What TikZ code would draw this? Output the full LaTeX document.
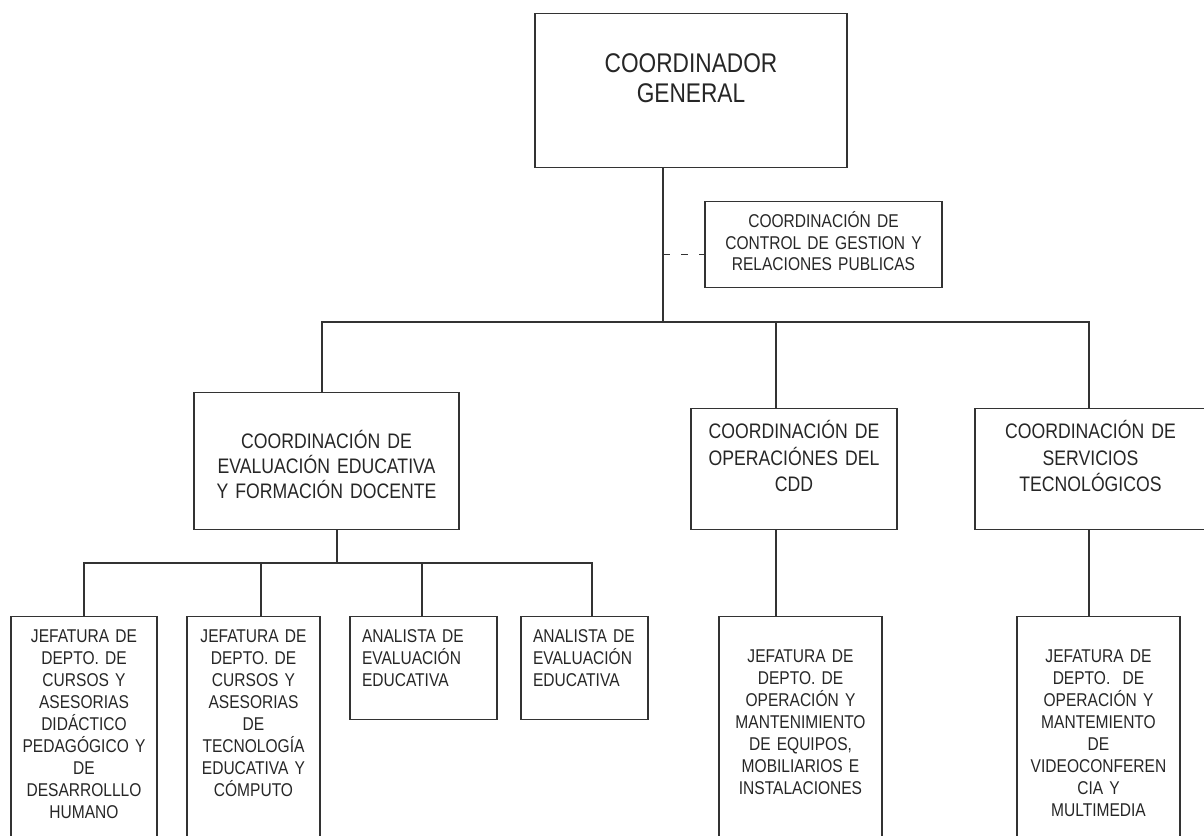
\documentclass[tikz,border=0pt]{standalone}
\usepackage{fontspec}
\setmainfont[FakeStretch=0.84]{Liberation Sans}
\begin{document}
\begin{tikzpicture}[x=1pt, y=-1pt,
    orgBoxStyle/.style={draw=black!80, line width=1.2pt, inner sep=0pt, anchor=north, text=black!85, font=\fontsize{18.5pt}{22pt}\selectfont},
    orgCenterStyle/.style={orgBoxStyle, align=center},
    orgLeftStyle/.style={orgBoxStyle, align=left, inner xsep=12pt},
    orgLineStyle/.style={draw=black!80, line width=1.2pt},
    orgDashStyle/.style={draw=black!80, line width=1.2pt, dash pattern=on 7pt off 11pt}]

    \path[use as bounding box, clip] (0,0) rectangle (1204,835);

    % Top level
    \node[orgCenterStyle, text width=312pt, text height=59pt, text depth=95pt, font=\fontsize{27pt}{30pt}\selectfont] (cg) at (691,13) {COORDINADOR\\GENERAL};
    \node[orgCenterStyle, text width=237pt, text height=26pt, text depth=60pt, font=\fontsize{18.5pt}{21.5pt}\selectfont] (cgr) at (823.5,201) {COORDINACIÓN DE\\CONTROL DE GESTION Y\\RELACIONES PUBLICAS};

    % Coordinaciones
    \node[orgCenterStyle, text width=265pt, text height=56pt, text depth=81pt, font=\fontsize{21pt}{25pt}\selectfont] (eval) at (326.5,392) {COORDINACIÓN DE\\EVALUACIÓN EDUCATIVA\\Y FORMACIÓN DOCENTE};
    \node[orgCenterStyle, text width=206pt, text height=30pt, text depth=91pt, font=\fontsize{21pt}{26.5pt}\selectfont] (cdd) at (794,408) {COORDINACIÓN DE\\OPERACIÓNES DEL\\CDD};
    \node[orgCenterStyle, text width=231pt, text height=30pt, text depth=91pt, font=\fontsize{21pt}{26.5pt}\selectfont] (serv) at (1090.5,408) {COORDINACIÓN DE\\SERVICIOS\\TECNOLÓGICOS};

    % Jefaturas y analistas
    \node[orgCenterStyle, text width=146pt, text height=26pt, text depth=240pt] (jef1) at (84,616) {JEFATURA DE\\DEPTO. DE\\CURSOS Y\\ASESORIAS\\DIDÁCTICO\\PEDAGÓGICO Y\\DE\\DESARROLLLO\\HUMANO};
    \node[orgCenterStyle, text width=133pt, text height=26pt, text depth=240pt] (jef2) at (253.5,616) {JEFATURA DE\\DEPTO. DE\\CURSOS Y\\ASESORIAS\\DE\\TECNOLOGÍA\\EDUCATIVA Y\\CÓMPUTO};
    \node[orgLeftStyle, text width=123pt, text height=26pt, text depth=77pt] (ana1) at (423.5,616) {ANALISTA~DE\\EVALUACIÓN\\EDUCATIVA};
    \node[orgLeftStyle, text width=103pt, text height=26pt, text depth=77pt] (ana2) at (584.5,616) {ANALISTA~DE\\EVALUACIÓN\\EDUCATIVA};
    \node[orgCenterStyle, text width=163pt, text height=46pt, text depth=220pt] (jef3) at (800.5,616) {JEFATURA DE\\DEPTO. DE\\OPERACIÓN Y\\MANTENIMIENTO\\DE EQUIPOS,\\MOBILIARIOS E\\INSTALACIONES};
    \node[orgCenterStyle, text width=163pt, text height=46pt, text depth=220pt] (jef4) at (1098.5,616) {JEFATURA DE\\DEPTO.\ \ DE\\OPERACIÓN Y\\MANTEMIENTO\\DE\\VIDEOCONFEREN\\CIA Y\\MULTIMEDIA};

    \coordinate (trunk) at (663,322);
    \coordinate (bEval) at (322,322);
    \coordinate (bCdd) at (776,322);
    \coordinate (bServ) at (1089,322);
    \coordinate (sEval) at (337,563);
    \coordinate (sJef1) at (84,563);
    \coordinate (sJef2) at (261,563);
    \coordinate (sAna1) at (422,563);
    \coordinate (sAna2) at (592,563);

    \draw[orgLineStyle] (cg.south -| trunk) -- (trunk);
    \draw[orgDashStyle] ([yshift=-10pt]cgr.west -| trunk) -- ([yshift=-10pt]cgr.west);
    \draw[orgLineStyle] (bEval |- eval.north) -- (bEval) -- (bServ) -- (bServ |- serv.north);
    \draw[orgLineStyle] (bCdd) -- (bCdd |- cdd.north);
    \draw[orgLineStyle] (eval.south -| sEval) -- (sEval);
    \draw[orgLineStyle] (sJef1 |- jef1.north) -- (sJef1) -- (sAna2) -- (sAna2 |- ana2.north);
    \draw[orgLineStyle] (sJef2) -- (sJef2 |- jef2.north);
    \draw[orgLineStyle] (sAna1) -- (sAna1 |- ana1.north);
    \draw[orgLineStyle] (cdd.south -| bCdd) -- (bCdd |- jef3.north);
    \draw[orgLineStyle] (serv.south -| bServ) -- (bServ |- jef4.north);
\end{tikzpicture}
\end{document}
